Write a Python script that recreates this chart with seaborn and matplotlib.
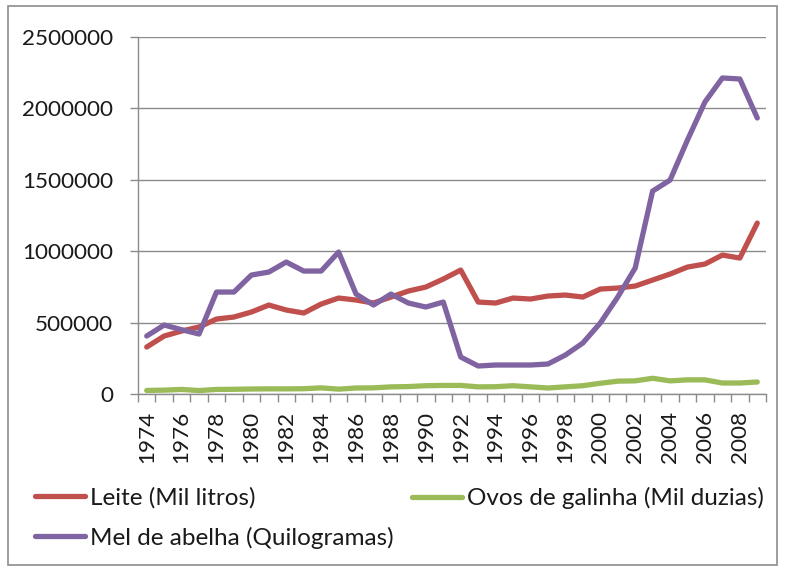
import matplotlib
matplotlib.use("Agg")
import matplotlib.pyplot as plt
import seaborn as sns
import pandas as pd
import numpy as np
from matplotlib.patches import Rectangle

years = list(range(1974, 2010))
leite = [329000, 406000, 441000, 469000, 525000, 539000, 574000, 623000, 588000, 567000,
         630000, 672000, 658000, 637000, 679000, 721000, 749000, 805000, 868000, 644000,
         637000, 672000, 665000, 686000, 693000, 679000, 735000, 742000, 756000, 798000,
         840000, 889000, 910000, 973000, 952000, 1197000]
ovos = [25000, 27000, 32000, 24000, 32000, 33000, 35000, 36000, 36000, 37000,
        43000, 34000, 42000, 43000, 50000, 52000, 58000, 60000, 60000, 50000,
        51000, 58000, 50000, 42000, 50000, 58000, 75000, 90000, 92000, 110000,
        92000, 99000, 99000, 77000, 77000, 84000]
mel = [406000, 483000, 450000, 420000, 714000, 714000, 833000, 854000, 924000, 861000,
       861000, 994000, 700000, 623000, 700000, 637000, 609000, 644000, 259000, 196000,
       203000, 203000, 203000, 210000, 273000, 357000, 497000, 679000, 882000, 1421000,
       1498000, 1779000, 2045000, 2213000, 2206000, 1933000]
series_names = ["Leite (Mil litros)", "Ovos de galinha (Mil duzias)", "Mel de abelha (Quilogramas)"]
colors = ["#C0504D", "#9BBB59", "#8064A2"]
yticks = [0, 500000, 1000000, 1500000, 2000000, 2500000]

idx = list(range(len(years)))
df = pd.concat([
    pd.DataFrame({"i": idx, "v": leite, "s": series_names[0]}),
    pd.DataFrame({"i": idx, "v": ovos, "s": series_names[1]}),
    pd.DataFrame({"i": idx, "v": mel, "s": series_names[2]}),
])

sns.set_theme(style="white")
plt.rcParams["font.family"] = ["Lato", "DejaVu Sans"]
FS = 16.2
LFS = 17.5
GRAY = "#8C8C8C"

fig = plt.figure(figsize=(7.85, 5.71), dpi=100)
ax = fig.add_axes([138/785, 1-394/571, (766-138)/785, (394-37)/571])

sns.lineplot(data=df, x="i", y="v", hue="s", hue_order=series_names,
             palette=colors, linewidth=3.8, ax=ax, legend=True)

ax.set_xlim(-0.5, len(years) - 0.5)
ax.set_ylim(0, 2500000)
ax.set_yticks(yticks)
ax.set_yticklabels([str(v) for v in yticks], fontsize=FS, color="#1a1a1a")
ax.yaxis.grid(True, color=GRAY, linewidth=1)
ax.set_axisbelow(True)

ax.set_xticks(idx[::2])
ax.set_xticklabels([str(y) for y in years[::2]], rotation=90, fontsize=FS, color="#1a1a1a")
ax.set_xticks(np.arange(-0.5, len(years), 1.0), minor=True)
ax.tick_params(axis="x", which="major", length=0, pad=12)
ax.tick_params(axis="x", which="minor", length=6, color=GRAY, width=1, direction="out", bottom=True)
ax.tick_params(axis="y", length=6, color=GRAY, width=1, direction="out", left=True, pad=12)
ax.set_xlabel("")
ax.set_ylabel("")

for s in ["top", "right"]:
    ax.spines[s].set_visible(False)
for s in ["left", "bottom"]:
    ax.spines[s].set_color(GRAY)
    ax.spines[s].set_linewidth(1)

handles, labels = ax.get_legend_handles_labels()
ax.get_legend().remove()
hmap = dict(zip(labels, handles))
kw = dict(loc="upper left", frameon=False, fontsize=LFS, handlelength=2.05, handletextpad=0.2,
          labelspacing=0.75, borderaxespad=0, borderpad=0, labelcolor="#1a1a1a")
leg1 = fig.legend([hmap[series_names[0]], hmap[series_names[2]]], [series_names[0], series_names[2]],
                  bbox_to_anchor=(35/785, 1-487/571), **kw)
leg2 = fig.legend([hmap[series_names[1]]], [series_names[1]],
                  bbox_to_anchor=(412/785, 1-487/571), **kw)
for leg in (leg1, leg2):
    for line in leg.get_lines():
        line.set_linewidth(3.8)

fig.patches.append(Rectangle((8/785, 6/571), 1-16/785, 1-12/571, transform=fig.transFigure,
                             fill=False, edgecolor=GRAY, linewidth=1.2))

fig.savefig("out.png", dpi=100)
